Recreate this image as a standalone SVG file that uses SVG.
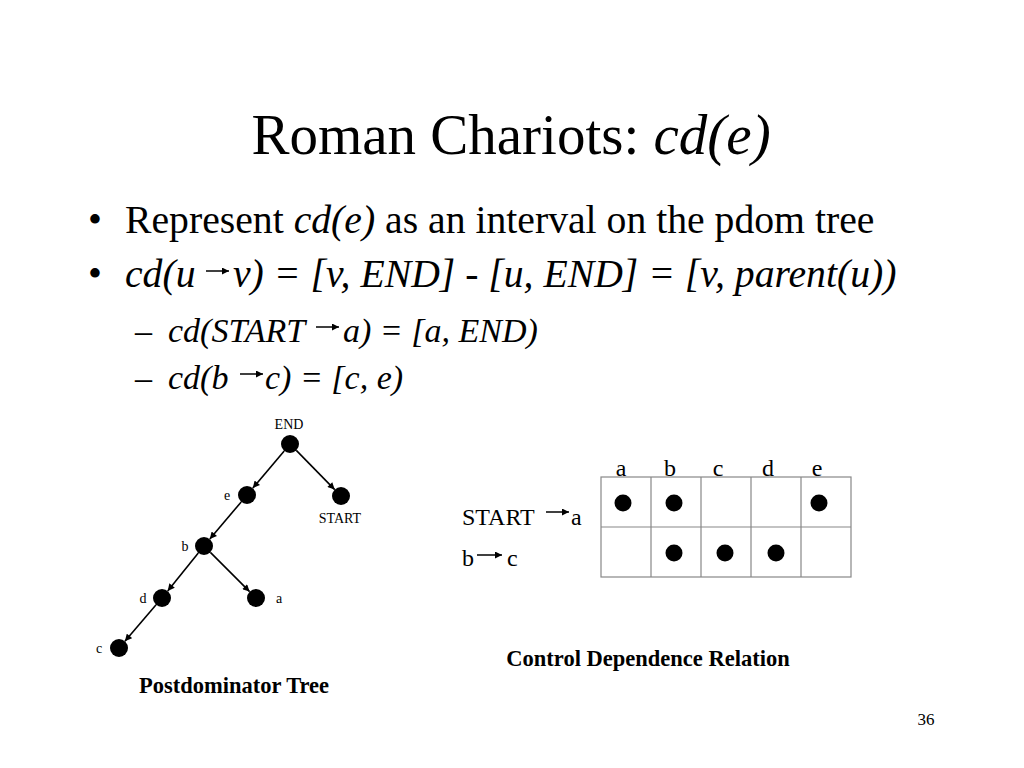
<svg xmlns="http://www.w3.org/2000/svg" width="1024" height="768" viewBox="0 0 1024 768">
<style>
text{font-family:"Liberation Serif","Times New Roman",serif;fill:#000}
.it{font-style:italic}
.t1{font-size:39.7px}
.t2{font-size:34px}
.lbl{font-size:14px}
.tbl{font-size:24px}
.cap{font-size:22.5px;font-weight:bold}
.edge{stroke:#000;stroke-width:1.6;fill:none;marker-end:url(#ah)}
.tarr{stroke:#000;stroke-width:1.5;fill:none;marker-end:url(#ah2)}
.grid{stroke:#888;stroke-width:1.2;fill:none}
</style>
<defs>
<marker id="ah" viewBox="0 0 10 10" refX="10" refY="5" markerWidth="8" markerHeight="7" markerUnits="userSpaceOnUse" orient="auto"><path d="M0,0 L10,5 L0,10 z" fill="#000"/></marker>
<marker id="ah2" viewBox="0 0 10 10" refX="10" refY="5" markerWidth="8" markerHeight="7" markerUnits="userSpaceOnUse" orient="auto"><path d="M0,0 L10,5 L0,10 z" fill="#000"/></marker>
</defs>
<rect width="1024" height="768" fill="#fff"/>
<g id="title"><text x="511" y="154" text-anchor="middle" style="font-size:57px">Roman Chariots: <tspan class="it">cd(e)</tspan></text></g>
<g id="bullets">
<text x="88" y="233" class="t1">•</text>
<text x="125" y="233" class="t1">Represent <tspan class="it">cd(e)</tspan> as an interval on the pdom tree</text>
<text x="88" y="287" class="t1">•</text>
<text x="125" y="287" class="t1 it">cd(u</text>
<line x1="206" y1="271" x2="229" y2="271" class="tarr"/>
<text x="233" y="287" class="t1 it">v) = [v, END] - [u, END] = [v, parent(u))</text>
<text x="135" y="342" class="t2">–</text>
<text x="168" y="342" class="t2 it">cd(START</text>
<line x1="316" y1="327" x2="339" y2="327" class="tarr"/>
<text x="343" y="342" class="t2 it">a) = [a, END)</text>
<text x="135" y="389" class="t2">–</text>
<text x="168" y="389" class="t2 it">cd(b</text>
<line x1="240" y1="374" x2="263" y2="374" class="tarr"/>
<text x="265" y="389" class="t2 it">c) = [c, e)</text>
</g>
<g id="connectors">
<line x1="284.2" y1="450.9" x2="252.8" y2="488.1" class="edge"/>
<line x1="296.3" y1="450.4" x2="334.7" y2="489.6" class="edge"/>
<line x1="241.2" y1="501.9" x2="209.8" y2="539.1" class="edge"/>
<line x1="198.3" y1="553" x2="167.7" y2="591" class="edge"/>
<line x1="210.4" y1="552.4" x2="249.6" y2="591.6" class="edge"/>
<line x1="156.1" y1="604.8" x2="124.9" y2="641.2" class="edge"/>
</g>
<g id="node-END"><circle cx="290" cy="444" r="9"/><text x="289" y="429" text-anchor="middle" class="lbl">END</text></g>
<g id="node-e"><circle cx="247" cy="495" r="9"/><text x="227" y="500" text-anchor="middle" class="lbl">e</text></g>
<g id="node-START"><circle cx="341" cy="496" r="9"/><text x="340" y="523" text-anchor="middle" class="lbl">START</text></g>
<g id="node-b"><circle cx="204" cy="546" r="9"/><text x="185" y="551" text-anchor="middle" class="lbl">b</text></g>
<g id="node-d"><circle cx="162" cy="598" r="9"/><text x="143" y="603" text-anchor="middle" class="lbl">d</text></g>
<g id="node-a"><circle cx="256" cy="598" r="9"/><text x="279" y="603" text-anchor="middle" class="lbl">a</text></g>
<g id="node-c"><circle cx="119" cy="648" r="9"/><text x="99" y="653" text-anchor="middle" class="lbl">c</text></g>
<g id="caption-tree"><text x="234" y="693" text-anchor="middle" class="cap">Postdominator Tree</text></g>
<g id="table">
<text x="621" y="476" text-anchor="middle" class="tbl">a</text>
<text x="670" y="476" text-anchor="middle" class="tbl">b</text>
<text x="718" y="476" text-anchor="middle" class="tbl">c</text>
<text x="768" y="476" text-anchor="middle" class="tbl">d</text>
<text x="817" y="476" text-anchor="middle" class="tbl">e</text>
<text x="462" y="525" class="tbl">START</text>
<line x1="546" y1="512" x2="569" y2="512" class="tarr"/>
<text x="571" y="525" class="tbl">a</text>
<text x="462" y="566" class="tbl">b</text>
<line x1="477" y1="555" x2="502" y2="555" class="tarr"/>
<text x="507" y="566" class="tbl">c</text>
<rect x="601" y="477" width="250" height="100" class="grid"/>
<path d="M651,477V577M701,477V577M751,477V577M801,477V577M601,527H851" class="grid"/>
<circle cx="623" cy="503" r="8.5"/>
<circle cx="674" cy="503" r="8.5"/>
<circle cx="819" cy="503" r="8.5"/>
<circle cx="674" cy="553" r="8.5"/>
<circle cx="725" cy="553" r="8.5"/>
<circle cx="776" cy="553" r="8.5"/>
</g>
<g id="caption-table"><text x="648" y="666" text-anchor="middle" class="cap">Control Dependence Relation</text></g>
<text x="926" y="725" text-anchor="middle" style="font-size:17px">36</text>
</svg>
